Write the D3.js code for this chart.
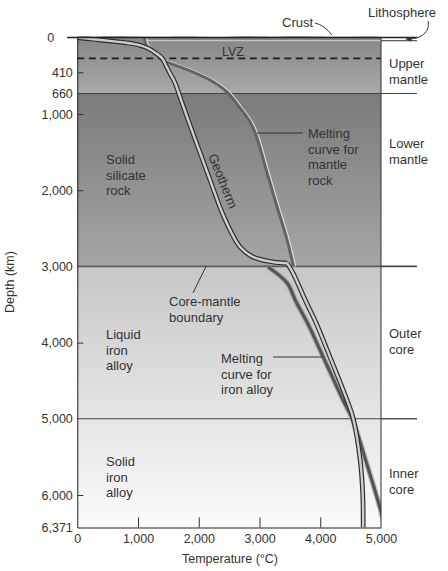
<!DOCTYPE html>
<html><head><meta charset="utf-8">
<script src="https://cdn.jsdelivr.net/npm/d3@7/dist/d3.min.js"></script>
<style>
html,body{margin:0;padding:0;background:#fff;}
svg text{font-family:"Liberation Sans",Arial,sans-serif;fill:#333;}
</style></head>
<body>
<svg id="chart" width="448" height="571"></svg>
<script>
// ---- data ----
const depthTicks = [0, 410, 660, 1000, 2000, 3000, 4000, 5000, 6000, 6371];
const depthTickLabels = ["0", "410", "660", "1,000", "2,000", "3,000", "4,000", "5,000", "6,000", "6,371"];
const tempTicks = [0, 1000, 2000, 3000, 4000, 5000];
const tempTickLabels = ["0", "1,000", "2,000", "3,000", "4,000", "5,000"];
const boundaries = [660, 3000, 5000];        // km
const lvzDepth = 245;                        // km
const lithosphereBase = 38;                  // km
// geotherm: [temperature °C, depth km]
const geothermMantle = [[0,0],[270,20],[530,40],[800,62],[1020,90],[1180,132],[1300,188],[1400,248],[1470,344],[1540,440],[1610,536],[1708,768],[1825,1079],[2005,1472],[2186,1866],[2367,2260],[2516,2522],[2680,2745],[2895,2877],[3224,2942],[3455,2958]];
const geothermCore = [[3455,2958],[3554,3092],[3756,3447],[3935,3748],[4163,4195],[4443,4759],[4542,4995],[4658,5546],[4700,6000],[4707,6371]];
const meltingMantle = [[1110,0],[1113,40],[1135,90],[1190,135],[1300,190],[1412,277],[1527,304],[1906,407],[2186,501],[2466,643],[2680,900],[2845,1105],[2943,1276],[3125,1774],[3290,2220],[3455,2654],[3554,2982],[3560,3000]];
const meltingIron = [[3141,3008],[3454,3218],[3591,3447],[3800,3760],[4052,4195],[4377,4759],[4525,4995],[4772,5606],[5000,6190],[5060,6371]];
// crust relief (negative depth, km) sampled along the temperature axis
const crustT = [0,250,500,750,1000,1250,1500,1750,2000,2250,2500,2750,3000,3250,3500,3750,4000,4250,4500,4750,5000];
const crustTop = [-6,-8,-14,-18,-10,-8,-9,-12,-8,-6,-9,-16,-10,-8,-14,-18,-10,-8,-9,-12,-8];

// ---- layout ----
const svg = d3.select("#chart");
const x = d3.scaleLinear().domain([0, 5000]).range([77.3, 381]);
const y = d3.scaleLinear().domain([0, 660, 1000, 6000, 6371]).range([37.5, 93.5, 114, 495, 527.5]);
const x0 = x(0), x1 = x(5000), xOut = 417;

const defs = svg.append("defs");
function grad(id, c0, c1){
  const g = defs.append("linearGradient").attr("id", id).attr("x1",0).attr("y1",0).attr("x2",0).attr("y2",1);
  g.append("stop").attr("offset","0%").attr("stop-color",c0);
  g.append("stop").attr("offset","100%").attr("stop-color",c1);
}
grad("gUpper", "#878787", "#a9a9a9");
grad("gLower", "#7b7b7b", "#a5a5a5");
grad("gCore", "#c7c7c7", "#fbfbfb");
defs.append("clipPath").attr("id","plotClip").append("rect")
  .attr("x", x0).attr("y", y(0)-1).attr("width", x1-x0).attr("height", y(6371)-y(0)+1);

// background bands
const bands = [[0,660,"gUpper"],[660,3000,"gLower"],[3000,6371,"gCore"]];
svg.selectAll("rect.band").data(bands).join("rect").attr("class","band")
  .attr("x", x0).attr("width", x1-x0)
  .attr("y", d=>y(d[0])).attr("height", d=>y(d[1])-y(d[0]))
  .attr("fill", d=>`url(#${d[2]})`);

// lithosphere base (inside, light)
svg.append("line").attr("x1", x(1120)).attr("x2", x1)
  .attr("y1", y(lithosphereBase)).attr("y2", y(lithosphereBase))
  .attr("stroke","#c4c4c4").attr("stroke-width",1.2);

// boundary lines
svg.selectAll("line.bnd").data(boundaries).join("line").attr("class","bnd")
  .attr("x1", x0).attr("x2", xOut).attr("y1", d=>y(d)).attr("y2", d=>y(d))
  .attr("stroke", d=> d===3000 ? "#5e5e5e" : "#444").attr("stroke-width", d=> d===3000 ? 1.6 : 1.1);
svg.selectAll("line.bndOut").data(boundaries).join("line").attr("class","bndOut")
  .attr("x1", x1).attr("x2", xOut).attr("y1", d=>y(d)).attr("y2", d=>y(d))
  .attr("stroke","#444").attr("stroke-width",1);

// LVZ dashed
svg.append("line").attr("x1", x0).attr("x2", x1).attr("y1", y(lvzDepth)).attr("y2", y(lvzDepth))
  .attr("stroke","#1e1e1e").attr("stroke-width",1.8).attr("stroke-dasharray","7,4.5");
svg.append("text").attr("x", 233).attr("y", y(lvzDepth)-6).attr("text-anchor","middle")
  .attr("dominant-baseline","central").attr("font-size",12.5).text("LVZ");

const line = d3.line().x(d=>x(d[0])).y(d=>y(d[1])).curve(d3.curveCatmullRom.alpha(0.5));
const plot = svg.append("g").attr("clip-path","url(#plotClip)");

// melting curve for iron alloy
plot.append("path").attr("d", line(meltingIron)).attr("fill","none")
  .attr("stroke","#9a9a9a").attr("stroke-width",5.5).attr("opacity",0.6);
plot.append("path").attr("d", line(meltingIron)).attr("fill","none")
  .attr("stroke","#555").attr("stroke-width",3.2);

// melting curve for mantle rock
plot.append("path").attr("d", line(meltingMantle)).attr("fill","none")
  .attr("stroke","#dcdcdc").attr("stroke-width",3.5).attr("transform","translate(1,0)");
plot.append("path").attr("d", line(meltingMantle)).attr("fill","none")
  .attr("stroke","#636363").attr("stroke-width",3);

// geotherm (double line)
[geothermMantle, geothermCore].forEach(seg=>{
  plot.append("path").attr("d", line(seg)).attr("fill","none")
    .attr("stroke","#2e2e2e").attr("stroke-width",4.8).attr("stroke-linejoin","miter");
});
[geothermMantle, geothermCore].forEach(seg=>{
  plot.append("path").attr("d", line(seg)).attr("fill","none")
    .attr("stroke","#cfcfcf").attr("stroke-width",2.4).attr("stroke-linejoin","miter");
});

// crust
const crustData = crustT.map((t,i)=>[t, crustTop[i]]);
svg.append("path").datum(crustData)
  .attr("d", d3.area().x(d=>x(d[0])).y0(y(0)).y1(d=>y(d[1])).curve(d3.curveBasis))
  .attr("fill","#8a8a8a");

// frame
svg.append("line").attr("x1", 67).attr("x2", xOut).attr("y1", y(0)).attr("y2", y(0)).attr("stroke","#222").attr("stroke-width",1.6);
svg.append("line").attr("x1", x1).attr("x2", xOut).attr("y1", y(lithosphereBase)).attr("y2", y(lithosphereBase)).attr("stroke","#333").attr("stroke-width",1);
svg.append("line").attr("x1", x1).attr("x2", x1).attr("y1", y(0)).attr("y2", y(6371)).attr("stroke","#333").attr("stroke-width",1);

// axes
const yAxis = d3.axisLeft(y).tickValues(depthTicks).tickFormat((d,i)=>depthTickLabels[i]).tickSizeInner(-6).tickSizeOuter(0).tickPadding(11);
const gy = svg.append("g").attr("transform",`translate(${x0},0)`).call(yAxis);
gy.select(".domain").attr("stroke","#222");
gy.selectAll(".tick line").attr("stroke","#333").attr("display", d=> (d===0||d===660||d===3000||d===5000||d===6371)?"none":null);
gy.selectAll(".tick text").attr("font-size",12.5).attr("fill","#333").attr("font-family","Liberation Sans, Arial, sans-serif")
  .attr("x", d=> d===0 ? -23 : -4.5);

const xAxis = d3.axisBottom(x).tickValues(tempTicks).tickFormat((d,i)=>tempTickLabels[i]).tickSizeInner(-10).tickSizeOuter(0).tickPadding(6);
const gx = svg.append("g").attr("transform",`translate(0,${y(6371)})`).call(xAxis);
gx.select(".domain").attr("stroke","#222");
gx.selectAll(".tick line").attr("stroke","#333").attr("display", d=> (d===0||d===5000)?"none":null);
gx.selectAll(".tick text").attr("font-size",12.5).attr("fill","#333").attr("font-family","Liberation Sans, Arial, sans-serif").attr("y",6.5);

svg.append("text").attr("x", 230).attr("y", 559).attr("text-anchor","middle").attr("dominant-baseline","central")
  .attr("font-size",12.5).text("Temperature (°C)");
svg.append("text").attr("transform","translate(10,282) rotate(-90)").attr("text-anchor","middle").attr("dominant-baseline","central")
  .attr("font-size",12.5).text("Depth (km)");

// multi-line labels
function label(xp, yp, lines, anchor){
  const t = svg.append("text").attr("x", xp).attr("y", yp).attr("font-size",13).attr("text-anchor", anchor||"start").attr("dominant-baseline","central");
  lines.forEach((s,i)=> t.append("tspan").attr("x", xp).attr("dy", i===0?0:15.5).text(s));
}
label(389, 63, ["Upper","mantle"]);
label(389, 143, ["Lower","mantle"]);
label(389, 333, ["Outer","core"]);
label(389, 473, ["Inner","core"]);
label(106, 159, ["Solid","silicate","rock"]);
label(106, 334, ["Liquid","iron","alloy"]);
label(106, 461, ["Solid","iron","alloy"]);
label(308, 133, ["Melting","curve for","mantle","rock"]);
label(169, 301, ["Core-mantle","boundary"]);
label(221, 358, ["Melting","curve for","iron alloy"]);

// leaders
svg.append("line").attr("x1", x(2943)+1).attr("x2", 303).attr("y1", 133).attr("y2", 133).attr("stroke","#333").attr("stroke-width",1);
svg.append("line").attr("x1", 273).attr("x2", 322).attr("y1", 357).attr("y2", 357).attr("stroke","#333").attr("stroke-width",1);
svg.append("line").attr("x1", 206).attr("x2", 193).attr("y1", y(3000)).attr("y2", 293).attr("stroke","#333").attr("stroke-width",1);

// Geotherm label
svg.append("text").attr("transform","translate(223,181) rotate(68)").attr("text-anchor","middle").attr("dominant-baseline","central")
  .attr("font-size",13).attr("fill","#222").text("Geotherm");

// Crust & Lithosphere
svg.append("text").attr("x", 282).attr("y", 22.5).attr("dominant-baseline","central").attr("font-size",13).text("Crust");
svg.append("path").attr("d","M315,23 Q324,25 332,35").attr("fill","none").attr("stroke","#333").attr("stroke-width",1);
svg.append("text").attr("x", 368).attr("y", 12.3).attr("dominant-baseline","central").attr("font-size",13).text("Lithosphere");
svg.append("path").attr("d","M428,21 C430,30 424,38 410,39").attr("fill","none").attr("stroke","#333").attr("stroke-width",1);
svg.append("path").attr("d","M405,39 L412,36.5 L411,41.5 Z").attr("fill","#333");
</script>
</body></html>
